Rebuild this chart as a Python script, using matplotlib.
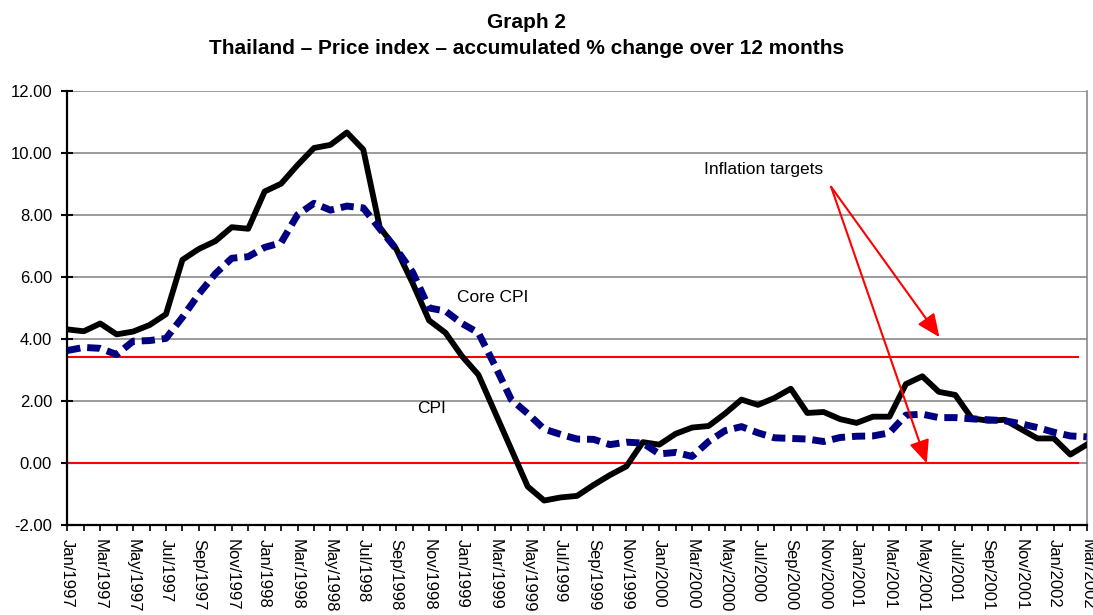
import matplotlib
matplotlib.use("Agg")
import matplotlib.pyplot as plt
import numpy as np

plt.rcParams['font.family'] = ['Liberation Sans', 'DejaVu Sans']

# monthly observations, Jan/1997 .. Mar/2002
cpi = [4.31, 4.25, 4.50, 4.15, 4.24, 4.45, 4.80, 6.55, 6.90, 7.15,
       7.60, 7.55, 8.75, 9.00, 9.60, 10.15, 10.25, 10.65, 10.10, 7.60,
       6.90, 5.80, 4.60, 4.20, 3.45, 2.85, 1.65, 0.45, -0.75, -1.20,
       -1.10, -1.05, -0.70, -0.38, -0.10, 0.68, 0.60, 0.95, 1.15, 1.20,
       1.60, 2.05, 1.88, 2.10, 2.40, 1.62, 1.65, 1.42, 1.30, 1.50,
       1.50, 2.55, 2.80, 2.30, 2.20, 1.45, 1.37, 1.40, 1.10, 0.80,
       0.80, 0.28, 0.60]

core_cpi = [3.63, 3.73, 3.70, 3.50, 3.93, 3.95, 4.02, 4.70, 5.45, 6.10,
            6.60, 6.65, 6.95, 7.10, 8.00, 8.37, 8.15, 8.28, 8.22, 7.55,
            6.90, 6.15, 5.00, 4.90, 4.50, 4.20, 3.15, 2.05, 1.60, 1.10,
            0.93, 0.78, 0.77, 0.60, 0.68, 0.65, 0.30, 0.35, 0.22, 0.70,
            1.05, 1.18, 0.98, 0.82, 0.80, 0.78, 0.70, 0.83, 0.87, 0.88,
            0.98, 1.55, 1.58, 1.47, 1.47, 1.43, 1.40, 1.37, 1.27, 1.15,
            1.00, 0.88, 0.85]

target_upper = 3.42
target_lower = 0.0

tick_labels = ["Jan/1997", "Mar/1997", "May/1997", "Jul/1997", "Sep/1997", "Nov/1997",
               "Jan/1998", "Mar/1998", "May/1998", "Jul/1998", "Sep/1998", "Nov/1998",
               "Jan/1999", "Mar/1999", "May/1999", "Jul/1999", "Sep/1999", "Nov/1999",
               "Jan/2000", "Mar/2000", "May/2000", "Jul/2000", "Sep/2000", "Nov/2000",
               "Jan/2001", "Mar/2001", "May/2001", "Jul/2001", "Sep/2001", "Nov/2001",
               "Jan/2002", "Mar/2002"]

x = np.arange(len(cpi))

fig = plt.figure(figsize=(10.93, 6.15), dpi=100)
ax = fig.add_axes([0.0616, 0.1457, 0.9327, 0.7071])

# grid
for v in np.arange(-2, 12.1, 2):
    ax.axhline(v, color='#808080', linewidth=1.1, zorder=1)

# inflation target band edges
ax.plot([0, 61.45], [target_upper, target_upper], color='#ff0000', linewidth=1.5, zorder=2)
ax.plot([0, 61.45], [target_lower, target_lower], color='#ff0000', linewidth=1.5, zorder=2)

ax.plot(x, cpi, color='black', linewidth=4.2, solid_joinstyle='round', zorder=3)
ax.plot(x, core_cpi, color='#000080', linewidth=5.0, linestyle=(0, (1.9, 1.0)),
        dash_capstyle='butt', zorder=4)

ax.set_xlim(0, 62)
ax.set_ylim(-2, 12)

ax.set_yticks(np.arange(-2, 12.1, 2))
ax.set_yticklabels([f"{v:.2f}" for v in np.arange(-2, 12.1, 2)], fontsize=12)
ax.tick_params(axis='y', direction='inout', length=8, width=1.5, pad=7)

ax.set_xticks(np.arange(0, 63, 2))
ax.set_xticklabels(tick_labels, rotation=-90, fontsize=12, va='top', ha='center')
ax.set_xticks(np.arange(1, 63, 2), minor=True)
ax.tick_params(axis='x', which='both', direction='out', length=4, width=1.2, pad=6)

for side in ['left', 'bottom']:
    ax.spines[side].set_linewidth(1.6)
    ax.spines[side].set_color('black')
ax.spines['top'].set_visible(False)
ax.spines['right'].set_color('#808080')
ax.spines['right'].set_linewidth(1.1)

# annotations
ax.text(23.72, 5.34, "Core CPI", fontsize=12.5, va='center', ha='left')
ax.text(21.25, 1.75, "CPI", fontsize=12.5, va='center', ha='left')
ax.text(38.7, 9.47, "Inflation targets", fontsize=12.5, va='center', ha='left')

tail = (46.45, 8.9)
for tip in [(53.04, 4.06), (52.27, 0.0)]:
    ax.annotate("", xy=tip, xytext=tail,
                arrowprops=dict(arrowstyle='-|>,head_length=0.5,head_width=0.22',
                                color='#ff0000', lw=1.5,
                                mutation_scale=28, shrinkA=0, shrinkB=0),
                zorder=5)

fig.text(0.482, 1 - 23 / 615, "Graph 2", fontsize=15, fontweight='bold', ha='center', va='center')
fig.text(0.482, 1 - 49 / 615, "Thailand \u2013 Price index \u2013 accumulated % change over 12 months",
         fontsize=15, fontweight='bold', ha='center', va='center')

fig.savefig("out.png", dpi=100)
